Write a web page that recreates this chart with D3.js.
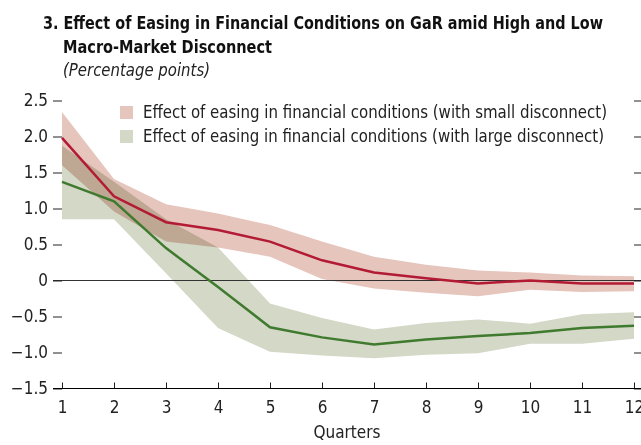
<!DOCTYPE html>
<html>
<head>
<meta charset="utf-8">
<script src="https://cdn.jsdelivr.net/npm/d3@7"></script>
<style>
  body { margin: 0; background: #fff; }
  svg { font-family: "Liberation Sans Narrow", "DejaVu Sans Condensed", "Liberation Sans", sans-serif; }
  .band { mix-blend-mode: multiply; }
</style>
</head>
<body>
<svg id="chart" width="641" height="445"></svg>
<script>
// quarters after the easing shock
var quarters = [1, 2, 3, 4, 5, 6, 7, 8, 9, 10, 11, 12]

// small disconnect (red)
var smallMid  = [1.98, 1.17, 0.81, 0.70, 0.54, 0.28, 0.11, 0.03, -0.04, 0.00, -0.04, -0.04]
var smallHigh = [2.34, 1.41, 1.06, 0.93, 0.77, 0.54, 0.33, 0.22, 0.14, 0.11, 0.07, 0.06]
var smallLow  = [1.60, 0.96, 0.54, 0.46, 0.33, 0.02, -0.11, -0.17, -0.22, -0.13, -0.16, -0.15]

// large disconnect (green)
var largeMid  = [1.37, 1.10, 0.45, -0.09, -0.65, -0.79, -0.89, -0.82, -0.77, -0.73, -0.66, -0.63]
var largeHigh = [1.87, 1.37, 0.85, 0.46, -0.32, -0.52, -0.68, -0.59, -0.54, -0.60, -0.47, -0.44]
var largeLow  = [0.85, 0.85, 0.10, -0.66, -0.99, -1.04, -1.08, -1.03, -1.01, -0.88, -0.88, -0.81]

var yTicks = [-1.5, -1.0, -0.5, 0, 0.5, 1.0, 1.5, 2.0, 2.5]

var legendLabels = [
    "Effect of easing in financial conditions (with small disconnect)",
    "Effect of easing in financial conditions (with large disconnect)"
]

var svg = d3.select("#chart")

var x = d3.scaleLinear().domain([1, 12]).range([62, 634])
var y = d3.scaleLinear().domain([-1.5, 2.5]).range([388.5, 100.5])

// title block - squeezed to the condensed width of the original
svg.append("text")
    .attr("x", 43).attr("y", 29)
    .attr("textLength", 560).attr("lengthAdjust", "spacingAndGlyphs")
    .style("font-weight", "bold").style("font-size", "18px")
    .attr("fill", "#111")
    .text("3. Effect of Easing in Financial Conditions on GaR amid High and Low")
svg.append("text")
    .attr("x", 63).attr("y", 53)
    .attr("textLength", 209).attr("lengthAdjust", "spacingAndGlyphs")
    .style("font-weight", "bold").style("font-size", "18px")
    .attr("fill", "#111")
    .text("Macro-Market Disconnect")
svg.append("text")
    .attr("x", 63).attr("y", 76)
    .attr("textLength", 147).attr("lengthAdjust", "spacingAndGlyphs")
    .style("font-style", "italic").style("font-size", "17px")
    .attr("fill", "#222")
    .text("(Percentage points)")

//bands first, then lines on top
var area = d3.area()
    .x(function(d, i) { return x(quarters[i]) })
    .y0(function(d) { return y(d[0]) })
    .y1(function(d) { return y(d[1]) })

var line = d3.line()
    .x(function(d, i) { return x(quarters[i]) })
    .y(function(d) { return y(d) })

var bands = [
    { lo: largeLow, hi: largeHigh, fill: "#d3d8c7" },
    { lo: smallLow, hi: smallHigh, fill: "#e6c5bd" }
]

bands.forEach(function(b) {
    svg.append("path")
        .attr("class", "band")
        .attr("d", area(b.lo.map(function(v, i) { return [v, b.hi[i]] })))
        .attr("fill", b.fill)
})

// zero line
svg.append("line")
    .attr("x1", 53).attr("x2", 641)
    .attr("y1", y(0)).attr("y2", y(0))
    .attr("stroke", "#333").attr("stroke-width", 1)

svg.append("path")
    .attr("d", line(smallMid))
    .attr("fill", "none")
    .attr("stroke", "#b31b34")
    .attr("stroke-width", 2.5)

svg.append("path")
    .attr("d", line(largeMid))
    .attr("fill", "none")
    .attr("stroke", "#3f7a2f")
    .attr("stroke-width", 2.5)

// left axis (ticks and labels, no domain line)
var yLeft = svg.append("g")
    .attr("transform", "translate(62,0)")
    .call(d3.axisLeft(y).tickValues(yTicks).tickSize(9).tickPadding(5)
        .tickFormat(function(d) { return d === 0 ? "0" : d3.format(".1f")(d) }))
yLeft.select(".domain").remove()

// right axis ticks only
var yRight = svg.append("g")
    .attr("transform", "translate(634,0)")
    .call(d3.axisRight(y).tickValues(yTicks).tickSize(7).tickFormat(""))
yRight.select(".domain").remove()

// bottom axis, ticks pointing up
var xAxis = svg.append("g")
    .attr("transform", "translate(0," + y(-1.5) + ")")
    .call(d3.axisBottom(x).tickValues(quarters).tickSize(-6).tickPadding(12))
xAxis.select(".domain").remove()
xAxis.append("line")
    .attr("x1", 53).attr("x2", 641)
    .attr("stroke", "#000")

svg.selectAll(".tick text")
    .style("font-size", "17px")
    .style("font-family", "\"Liberation Sans Narrow\", \"DejaVu Sans Condensed\", \"Liberation Sans\", sans-serif")
    .attr("fill", "#222")
svg.selectAll(".tick line").attr("stroke", "#222")

svg.append("text")
    .attr("x", 347).attr("y", 438)
    .attr("text-anchor", "middle")
    .style("font-size", "17px")
    .attr("fill", "#222")
    .text("Quarters")

// legend
var legend = svg.append("g")
legendLabels.forEach(function(lab, i) {
    var ly = 106 + i * 24
    legend.append("rect")
        .attr("x", 120).attr("y", ly)
        .attr("width", 13).attr("height", 13)
        .attr("fill", bands[1 - i].fill)
    legend.append("text")
        .attr("x", 143).attr("y", ly + 12)
        .attr("textLength", i === 0 ? 464 : 461).attr("lengthAdjust", "spacingAndGlyphs")
        .style("font-size", "17px")
        .attr("fill", "#222")
        .text(lab)
})
</script>
</body>
</html>
